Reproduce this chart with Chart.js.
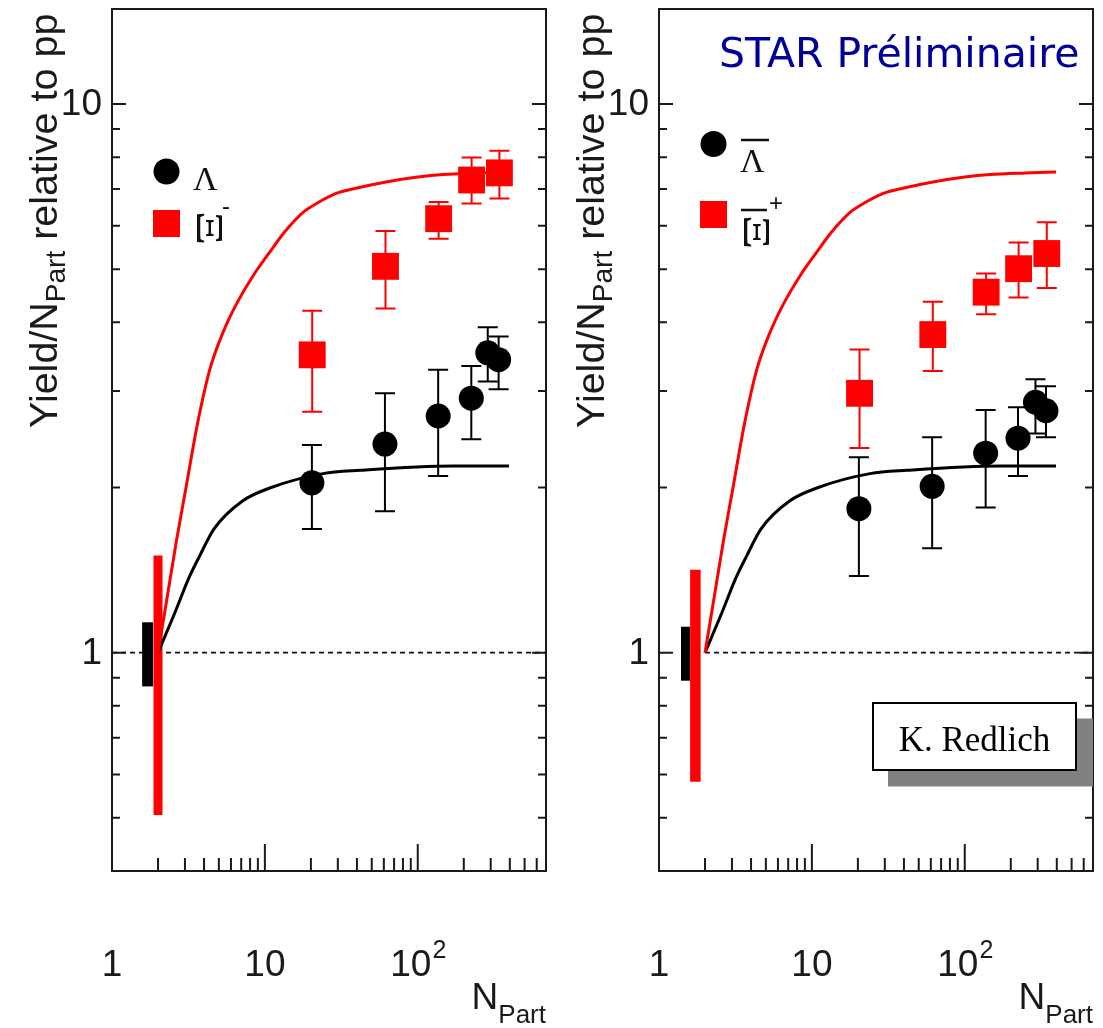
<!DOCTYPE html>
<html>
<head>
<meta charset="utf-8">
<script src="https://cdn.jsdelivr.net/npm/chart.js@4.4.1/dist/chart.umd.min.js"></script>
<style>
body { margin: 0; background: #fff; }
#wrap { position: relative; width: 1103px; height: 1028px; }
canvas { position: absolute; top: 0; }
</style>
</head>
<body>
<div id="wrap">
<canvas id="left" width="552" height="1028" style="left:0px"></canvas>
<canvas id="right" width="551" height="1028" style="left:552px"></canvas>
</div>
<script>
// axis ranges
var X_MIN = 1, X_MAX = 690;
var Y_MIN = 0.4, Y_MAX = 14.9;

// tick positions
var yTicks = [0.5, 0.6, 0.7, 0.8, 0.9, 1, 2, 3, 4, 5, 6, 7, 8, 9, 10];
var yMajor = [1, 10];
var xTicks = [2, 3, 4, 5, 6, 7, 8, 9, 10, 20, 30, 40, 50, 60, 70, 80, 90, 100, 200, 300, 400, 500, 600];
var xMajor = [10, 100];

// left panel : Lambda and Xi-
var lamN  = [20.3, 61, 136, 224, 287, 338];
var lamY  = [2.04, 2.40, 2.70, 2.91, 3.52, 3.42];
var lamLo = [1.68, 1.81, 2.10, 2.45, 3.12, 3.02];
var lamHi = [2.39, 2.97, 3.28, 3.33, 3.92, 3.77];

var xiN  = [20.4, 61.5, 137, 225, 342];
var xiY  = [3.49, 5.06, 6.18, 7.27, 7.49];
var xiLo = [2.75, 4.24, 5.68, 6.59, 6.73];
var xiHi = [4.20, 5.87, 6.63, 7.99, 8.22];

// right panel : anti-Lambda and anti-Xi+
var alamN  = [20.3, 61.2, 137, 223, 290, 340];
var alamY  = [1.83, 2.01, 2.31, 2.46, 2.86, 2.76];
var alamLo = [1.38, 1.55, 1.84, 2.10, 2.51, 2.47];
var alamHi = [2.27, 2.47, 2.77, 2.80, 3.15, 3.06];

var axiN  = [20.5, 61.8, 138, 225, 344];
var axiY  = [2.97, 3.80, 4.54, 5.01, 5.34];
var axiLo = [2.36, 3.26, 4.14, 4.44, 4.62];
var axiHi = [3.57, 4.36, 4.91, 5.59, 6.09];

// model curves (same in both panels)
var xiModelN = [2, 2.24, 2.64, 3.02, 3.63, 4.36, 5.25, 6.46, 8.32, 10.7, 13.5, 17.7, 22.5, 29.3, 40, 62, 100, 146, 250, 395];
var xiModelY = [1, 1.21, 1.60, 1.97, 2.62, 3.28, 3.80, 4.30, 4.85, 5.36, 5.85, 6.34, 6.62, 6.87, 7.03, 7.21, 7.36, 7.44, 7.49, 7.52];
var lamModelN = [2, 2.57, 3.19, 3.74, 4.64, 7.14, 11, 24, 42, 170, 395];
var lamModelY = [1, 1.18, 1.37, 1.50, 1.68, 1.89, 2.00, 2.12, 2.15, 2.19, 2.19];

// pp normalisation uncertainty bands : [N, low, high]
var sysLamL = [1.71, 0.868, 1.136];
var sysXiL  = [2.0, 0.506, 1.503];
var sysLamR = [1.49, 0.889, 1.115];
var sysXiR  = [1.73, 0.582, 1.416];

// reference line at 1
var unityL = [X_MIN, X_MAX];
var unityR = [2, X_MAX];

var SANS = '"Liberation Sans", Arial, sans-serif';
var SERIF = '"Liberation Serif", "Times New Roman", serif';

function pts(xs, ys) {
	var out = [];
	for (var i = 0; i < xs.length; i++) out.push({x: xs[i], y: ys[i]});
	return out;
}

function bandData(s) {
	return [{x: s[0], y: s[1]}, {x: s[0], y: s[2]}];
}

function makeDecor(p) {
	return {
		id: 'decor',
		beforeDatasetsDraw: function(chart) {
			var ctx = chart.ctx, xs = chart.scales.x, ys = chart.scales.y;
			p.errors.forEach(function(s) {
				ctx.save();
				ctx.strokeStyle = s.color;
				ctx.lineWidth = 2;
				for (var i = 0; i < s.n.length; i++) {
					var px = xs.getPixelForValue(s.n[i]);
					var top = ys.getPixelForValue(s.hi[i]);
					var bot = ys.getPixelForValue(s.lo[i]);
					ctx.beginPath();
					ctx.moveTo(px, top); ctx.lineTo(px, bot);
					ctx.moveTo(px - 10, top); ctx.lineTo(px + 10, top);
					ctx.moveTo(px - 10, bot); ctx.lineTo(px + 10, bot);
					ctx.stroke();
				}
				ctx.restore();
			});
		},
		afterDraw: function(chart) {
			var ctx = chart.ctx, xs = chart.scales.x, ys = chart.scales.y;
			var a = chart.chartArea, L = a.left, R = a.right, T = a.top, B = a.bottom;
			ctx.save();

			// frame
			ctx.strokeStyle = '#1a1a1a';
			ctx.lineWidth = 2;
			ctx.strokeRect(L, T, R - L, B - T);

			// y ticks on both sides
			ctx.beginPath();
			yTicks.forEach(function(v) {
				var py = ys.getPixelForValue(v);
				var len = yMajor.indexOf(v) >= 0 ? 14 : 8;
				ctx.moveTo(L, py); ctx.lineTo(L + len, py);
				ctx.moveTo(R, py); ctx.lineTo(R - len, py);
			});
			// x ticks on the bottom
			xTicks.forEach(function(v) {
				var px = xs.getPixelForValue(v);
				var len = xMajor.indexOf(v) >= 0 ? 27 : 13;
				ctx.moveTo(px, B); ctx.lineTo(px, B - len);
			});
			ctx.stroke();

			// tick labels
			ctx.fillStyle = '#1a1a1a';
			ctx.font = '37px ' + SANS;
			ctx.textAlign = 'right';
			ctx.textBaseline = 'middle';
			yMajor.forEach(function(v) {
				ctx.fillText(String(v), L - 10, ys.getPixelForValue(v) + 1);
			});
			ctx.textAlign = 'center';
			ctx.textBaseline = 'alphabetic';
			ctx.fillText('1', xs.getPixelForValue(1), 976);
			ctx.fillText('10', xs.getPixelForValue(10), 976);
			var w10 = ctx.measureText('10').width;
			ctx.font = '25px ' + SANS;
			var w2 = ctx.measureText('2').width;
			var x100 = xs.getPixelForValue(100) - (w10 + w2) / 2;
			ctx.textAlign = 'left';
			ctx.fillText('2', x100 + w10 + 1, 958);
			ctx.font = '37px ' + SANS;
			ctx.fillText('10', x100, 976);

			// x title
			ctx.textAlign = 'right';
			ctx.font = '26px ' + SANS;
			var wPart = ctx.measureText('Part').width;
			ctx.fillText('Part', R, 1023);
			ctx.font = '37px ' + SANS;
			ctx.fillText('N', R - wPart, 1009);

			// y title
			ctx.save();
			ctx.translate(L - 55, 428);
			ctx.rotate(-Math.PI / 2);
			ctx.textAlign = 'left';
			var x0 = 0;
			ctx.font = '39.5px ' + SANS;
			ctx.fillText('Yield/N', x0, 0);
			x0 += ctx.measureText('Yield/N').width;
			ctx.font = '28px ' + SANS;
			ctx.fillText('Part', x0, 8);
			x0 += ctx.measureText('Part').width;
			ctx.font = '39.5px ' + SANS;
			ctx.fillText(' relative to pp', x0, 0);
			ctx.restore();

			// legend
			var lg = p.legend;
			ctx.fillStyle = '#000';
			ctx.beginPath();
			ctx.arc(L + 54.5, lg.circleY, 13, 0, Math.PI * 2);
			ctx.fill();
			ctx.fillStyle = '#ff0000';
			ctx.fillRect(L + 41, lg.squareY - 13.5, 27, 27);

			ctx.fillStyle = '#111';
			ctx.strokeStyle = '#111';
			ctx.font = '34px ' + SERIF;
			ctx.textAlign = 'left';
			ctx.fillText('\u039B', L + 81, lg.lamBase);
			ctx.save();
			ctx.translate(L + 95, lg.xiY);
			ctx.rotate(Math.PI / 2);
			ctx.scale(1.5, 1.05);
			ctx.font = '36px ' + SERIF;
			ctx.textAlign = 'center';
			ctx.textBaseline = 'middle';
			ctx.fillText('\u039E', 0, 0);
			ctx.restore();
			ctx.font = '24px ' + SANS;
			ctx.fillText(lg.sup, L + 110, lg.supY);
			if (lg.bars) {
				ctx.lineWidth = 2.5;
				ctx.beginPath();
				ctx.moveTo(L + 82, lg.lamBar); ctx.lineTo(L + 110, lg.lamBar);
				ctx.moveTo(L + 82, lg.xiBar); ctx.lineTo(L + 108, lg.xiBar);
				ctx.stroke();
			}

			// STAR label
			if (p.star) {
				ctx.fillStyle = '#000099';
				ctx.textAlign = 'left';
				ctx.font = '34px "DejaVu Sans", sans-serif';
				var ws = ctx.measureText('STAR Pr\u00e9liminaire').width;
				var fs = 34 * 360 / ws;
				ctx.font = fs.toFixed(1) + 'px "DejaVu Sans", sans-serif';
				ctx.fillText('STAR Pr\u00e9liminaire', L + 60, 67);
			}

			// K. Redlich box
			if (p.redlich) {
				ctx.fillStyle = '#808080';
				ctx.fillRect(L + 229, 718.5, R - (L + 229), 68);
				ctx.fillStyle = '#fff';
				ctx.fillRect(L + 214, 703, 203, 67);
				ctx.strokeStyle = '#000';
				ctx.lineWidth = 2;
				ctx.strokeRect(L + 214, 703, 203, 67);
				ctx.fillStyle = '#000';
				ctx.textAlign = 'center';
				ctx.textBaseline = 'alphabetic';
				ctx.font = '35px ' + SERIF;
				ctx.fillText('K. Redlich', L + 315.5, 751);
			}
			ctx.restore();
		}
	};
}

function makeChart(id, p) {
	var datasets = [
		{ data: pts(p.lamN, p.lamY), pointStyle: 'circle', pointRadius: 12.5, pointBackgroundColor: '#000', pointBorderWidth: 0, order: 0 },
		{ data: pts(p.xiN, p.xiY), pointStyle: 'rect', pointRadius: 19, pointBackgroundColor: '#ff0000', pointBorderWidth: 0, order: 0 },
		{ data: pts(xiModelN, xiModelY), showLine: true, borderColor: '#ff0000', borderWidth: 3, pointRadius: 0, cubicInterpolationMode: 'monotone', order: 1 },
		{ data: pts(lamModelN, lamModelY), showLine: true, borderColor: '#000', borderWidth: 3, pointRadius: 0, cubicInterpolationMode: 'monotone', order: 1 },
		{ data: bandData(p.sysXi), showLine: true, borderColor: '#ff0000', borderWidth: p.sysXiW, borderCapStyle: 'butt', pointRadius: 0, order: 2 },
		{ data: bandData(p.sysLam), showLine: true, borderColor: '#000', borderWidth: p.sysLamW, borderCapStyle: 'butt', pointRadius: 0, order: 3 },
		{ data: pts(p.unity, [1, 1]), showLine: true, borderColor: '#111', borderWidth: 1.6, borderDash: [5, 4], pointRadius: 0, order: 4 }
	];
	return new Chart(document.getElementById(id), {
		type: 'scatter',
		data: { datasets: datasets },
		options: {
			responsive: false,
			animation: false,
			devicePixelRatio: 1,
			layout: { padding: p.padding, autoPadding: false },
			plugins: { legend: { display: false }, tooltip: { enabled: false } },
			scales: {
				x: { type: 'logarithmic', min: X_MIN, max: X_MAX, bounds: 'data', display: false },
				y: { type: 'logarithmic', min: Y_MIN, max: Y_MAX, bounds: 'data', display: false }
			}
		},
		plugins: [makeDecor(p)]
	});
}

makeChart('left', {
	lamN: lamN, lamY: lamY, xiN: xiN, xiY: xiY,
	sysLam: sysLamL, sysXi: sysXiL, sysLamW: 11, sysXiW: 9,
	unity: unityL,
	padding: { left: 112, right: 6, top: 9, bottom: 157 },
	errors: [
		{ n: lamN, lo: lamLo, hi: lamHi, color: '#000' },
		{ n: xiN, lo: xiLo, hi: xiHi, color: '#ff0000' }
	],
	legend: { circleY: 171.5, lamBase: 190, squareY: 223.5, xiY: 228, sup: '-', supY: 214, bars: false },
	star: false, redlich: false
});

makeChart('right', {
	lamN: alamN, lamY: alamY, xiN: axiN, xiY: axiY,
	sysLam: sysLamR, sysXi: sysXiR, sysLamW: 9, sysXiW: 10.5,
	unity: unityR,
	padding: { left: 107, right: 10, top: 9, bottom: 157 },
	errors: [
		{ n: alamN, lo: alamLo, hi: alamHi, color: '#000' },
		{ n: axiN, lo: axiLo, hi: axiHi, color: '#ff0000' }
	],
	legend: { circleY: 144, lamBase: 172, squareY: 214.5, xiY: 232, sup: '+', supY: 211, bars: true, lamBar: 140, xiBar: 210 },
	star: true, redlich: true
});
</script>
</body>
</html>
